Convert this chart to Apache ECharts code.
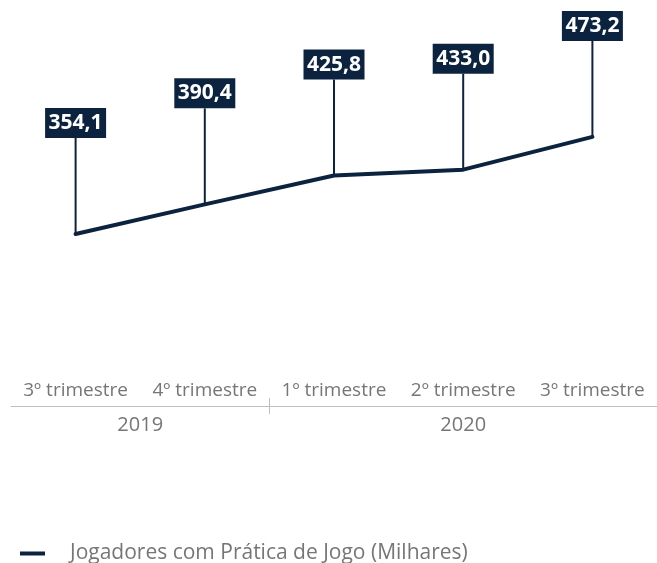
<!DOCTYPE html>
<html>
<head>
<meta charset="utf-8">
<script src="https://cdn.jsdelivr.net/npm/echarts@6/dist/echarts.min.js"></script>
<style>
  html, body { margin: 0; padding: 0; background: #FFFFFF; }
  #chart { width: 657px; height: 563px; }
</style>
</head>
<body>
<div id="chart"></div>
<script>
var categories = ['3º trimestre', '4º trimestre', '1º trimestre', '2º trimestre', '3º trimestre']
var values = [354.1, 390.4, 425.8, 433.0, 473.2]
var years = ['2019', '2020']
var yearCenters = [1, 3.5]   // middle of each year's group of quarters
var yearSplits = [2]         // boundary between 2019 and 2020
var seriesName = 'Jogadores com Prática de Jogo (Milhares)'

var navy = '#0c2340'
var grey = '#767676'
var font = '"Open Sans", sans-serif'

var chart = echarts.init(document.getElementById('chart'))

var option = {
  animation: false,
  grid: {
    left: 11,
    right: 0,
    top: 80,
    bottom: 157
  },
  legend: {
    left: 15,
    top: 538,
    icon: 'rect',
    itemWidth: 25,
    itemHeight: 4,
    data: [{ name: seriesName, itemStyle: { color: navy } }],
    textStyle: {
      color: grey,
      fontSize: 21,
      fontFamily: font,
      padding: [0, 0, 0, 20]
    }
  },
  xAxis: [
    {
      type: 'category',
      position: 'bottom',
      data: categories,
      boundaryGap: true,
      axisLine: { lineStyle: { color: '#bfbfbf', width: 1 } },
      axisTick: { show: false },
      axisLabel: {
        inside: true,
        interval: 0,
        margin: 6,
        color: grey,
        fontSize: 19,
        fontFamily: font
      }
    },
    {
      // second level: years, with the separating tick
      type: 'value',
      position: 'bottom',
      min: 0,
      max: categories.length,
      offset: -8,
      axisLine: { show: false },
      splitLine: { show: false },
      axisTick: {
        show: true,
        customValues: yearSplits,
        length: 16,
        lineStyle: { color: '#bfbfbf', width: 1 }
      },
      axisLabel: {
        customValues: yearCenters,
        showMinLabel: true,
        showMaxLabel: true,
        hideOverlap: false,
        margin: 17,
        color: grey,
        fontSize: 20,
        fontFamily: font,
        formatter: function (v) {
          return years[yearCenters.indexOf(v)]
        }
      }
    }
  ],
  yAxis: {
    type: 'value',
    min: 143,
    max: 543,
    show: false,
    splitLine: { show: false }
  },
  series: [
    {
      name: seriesName,
      type: 'line',
      data: values,
      symbol: 'none',
      lineStyle: { color: navy, width: 4, cap: 'round' },
      itemStyle: { color: navy },
      z: 3
    },
    {
      // leader lines and boxed value labels
      type: 'custom',
      clip: false,
      silent: true,
      data: values.map(function (v, i) { return [i, v] }),
      renderItem: function (params, api) {
        var p = api.coord([api.value(0), api.value(1)])
        var lead = 96
        var bw = 61
        var bh = 30
        var top = p[1] - lead
        var txt = api.value(1).toFixed(1).replace('.', ',')
        return {
          type: 'group',
          children: [
            {
              type: 'line',
              shape: { x1: p[0], y1: p[1], x2: p[0], y2: top },
              style: { stroke: navy, lineWidth: 2 }
            },
            {
              type: 'rect',
              shape: { x: p[0] - bw / 2, y: top - bh, width: bw, height: bh },
              style: { fill: navy }
            },
            {
              type: 'text',
              style: {
                x: p[0],
                y: top - bh / 2,
                text: txt,
                align: 'center',
                verticalAlign: 'middle',
                fill: '#FFFFFF',
                font: 'bold 21px ' + font
              }
            }
          ]
        }
      },
      z: 4
    }
  ]
}

chart.setOption(option)
</script>
</body>
</html>
